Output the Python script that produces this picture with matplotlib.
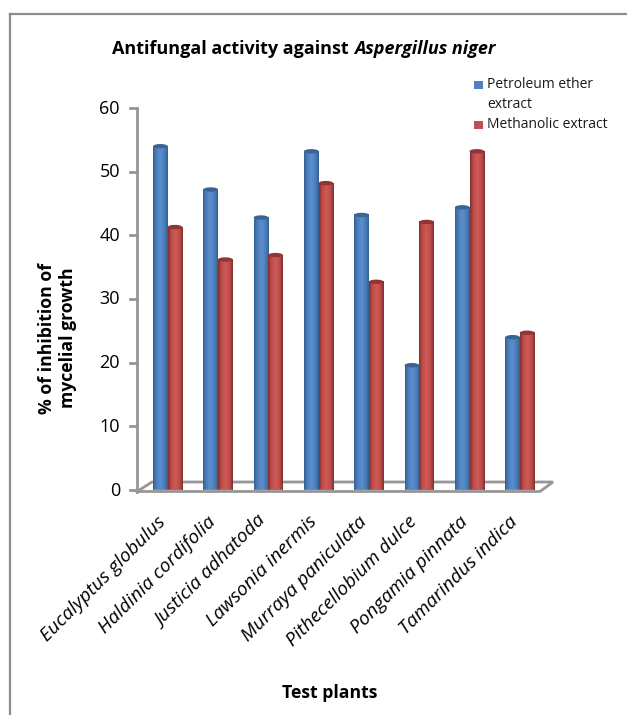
#!/usr/bin/env python3
"""Antifungal activity against Aspergillus niger, faux 3D cylinder bars."""

import numpy as np
import matplotlib
matplotlib.use('Agg')
import matplotlib.pyplot as plt
from matplotlib.patches import Ellipse, Rectangle

plants = ['Eucalyptus globulus', 'Haldinia cordifolia', 'Justicia adhatoda',
          'Lawsonia inermis', 'Murraya paniculata', 'Pithecellobium dulce',
          'Pongamia pinnata', 'Tamarindus indica']
petroleum = [54, 47.2, 42.8, 53.2, 43.2, 19.6, 44.4, 24]
methanolic = [41.3, 36.2, 36.9, 48.2, 32.7, 42.1, 53.2, 24.7]
yticks = [0, 10, 20, 30, 40, 50, 60]

W, H = 627, 715
plt.rcParams['font.family'] = ['Open Sans', 'DejaVu Sans']

fig = plt.figure(figsize=(W / 100, H / 100), dpi=100)

# axes box in pixels: the category band and the 0-60 range
left, right, top, bottom = 142.5, 545, 108, 490
ax = fig.add_axes([left / W, 1 - bottom / H, (right - left) / W, (bottom - top) / H])
ax.patch.set_alpha(0)
for s in ax.spines.values():
    s.set_visible(False)

px_x = (right - left) / 8   # pixels per category
px_y = (bottom - top) / 60  # pixels per unit
bar_w = 14.6 / px_x


def shade(dark, mid, light):
    # horizontal cylinder shading, dark edges with a lighter core
    c = np.array([matplotlib.colors.to_rgb(k) for k in (dark, mid, light, mid, dark)])
    pos = np.linspace(0, 1, 40)
    grad = np.stack([np.interp(pos, [0, .2, .5, .8, 1], c[:, i]) for i in range(3)], axis=-1)
    return grad[np.newaxis, :, :]


def cylinder(x, val, grad, cap, zorder):
    ax.imshow(grad, extent=(x - bar_w / 2, x + bar_w / 2, 0, val), aspect='auto',
              zorder=zorder, interpolation='bilinear')
    ax.add_patch(Ellipse((x, 0), bar_w, 2.6 / px_y, fc=grad[0, 20], ec='none', zorder=zorder))
    ax.add_patch(Ellipse((x, val), bar_w, 4.4 / px_y, fc=cap, ec='none', zorder=zorder + 0.1))


# floor, drawn in pixel positions relative to the axes
def fx(p):
    return (p - left) / (right - left)


def fy(p):
    return (bottom - p) / (bottom - top)


grey = '#969696'
tr = ax.transAxes
ax.plot([fx(137), fx(540), fx(553), fx(152), fx(137)],
        [fy(491.5), fy(491.5), fy(482), fy(482), fy(491.5)],
        color=grey, lw=2, transform=tr, clip_on=False, zorder=1,
        solid_joinstyle='miter')
ax.plot([fx(136.5), fx(136.5)], [fy(108), fy(491.5)], color=grey, lw=2,
        transform=tr, clip_on=False, zorder=1)
for v in yticks:
    ax.plot([fx(130), fx(136.5)], [fy(bottom - v * px_y)] * 2, color=grey, lw=2,
            transform=tr, clip_on=False, zorder=1)
    ax.text(fx(120), fy(bottom - v * px_y + 0.5), str(v), ha='right', va='center',
            fontsize=13, color='black', transform=tr)

blue_grad = shade('#355f92', '#4a7cb8', '#5a8fcf')
red_grad = shade('#7f2f2d', '#bb4a47', '#cf5a57')
offs = bar_w / 2
for i in range(len(plants)):
    cylinder(i - offs, petroleum[i], blue_grad, '#3a6494', 3)
    cylinder(i + offs, methanolic[i], red_grad, '#8e3634', 4)

ax.set_xlim(-0.5, 7.5)
ax.set_ylim(0, 60)
ax.set_xticks([])
ax.set_yticks([])

# rotated category labels end just under each group
for i, name in enumerate(plants):
    ax.annotate(name, xy=(i, 0), xytext=(-3.5, -21), textcoords='offset points',
                rotation=45, rotation_mode='anchor', ha='right', va='center',
                style='italic', fontsize=13.9, color='black', annotation_clip=False)

# outer chart frame: left and top edges only are in view
fig.add_artist(plt.Line2D([9.5 / W, 9.5 / W], [0, 1 - 13.5 / H], color='#8c8c8c', lw=1.6))
fig.add_artist(plt.Line2D([9.5 / W, 1], [1 - 13.5 / H, 1 - 13.5 / H], color='#8c8c8c', lw=1.6))

t1 = fig.text(112 / W, 1 - 49 / H, 'Antifungal activity against', ha='left', va='center',
              fontsize=13, fontweight='bold', color='black')
fig.canvas.draw()
bb = t1.get_window_extent()
fig.text((112 + bb.width + 5) / W, 1 - 49 / H, 'Aspergillus niger', ha='left', va='center',
         fontsize=13, fontweight='bold', style='italic', color='black')

fig.text(57.5 / W, 1 - 338 / H, '% of inhibition of\nmycelial growth', rotation=90,
         ha='center', va='center', ma='center', fontsize=12.7, fontweight='bold',
         linespacing=1.2, color='black')
fig.text(330 / W, 1 - 693 / H, 'Test plants', ha='center', va='center', fontsize=12.7,
         fontweight='bold', color='black')

# legend, placed by hand like the original
fig.add_artist(Rectangle((474 / W, 1 - 89 / H), 8.5 / W, 8.5 / H, fc='#4f81bd', ec='none',
                         transform=fig.transFigure))
fig.add_artist(Rectangle((474 / W, 1 - 129 / H), 8.5 / W, 8.5 / H, fc='#c0504d', ec='none',
                         transform=fig.transFigure))
fig.text(487 / W, 1 - 84.5 / H, 'Petroleum ether', va='center', fontsize=10, color='#1a1a1a')
fig.text(487 / W, 1 - 104 / H, 'extract', va='center', fontsize=10, color='#1a1a1a')
fig.text(487 / W, 1 - 124 / H, 'Methanolic extract', va='center', fontsize=10, color='#1a1a1a')

fig.savefig('out.png', dpi=100)
